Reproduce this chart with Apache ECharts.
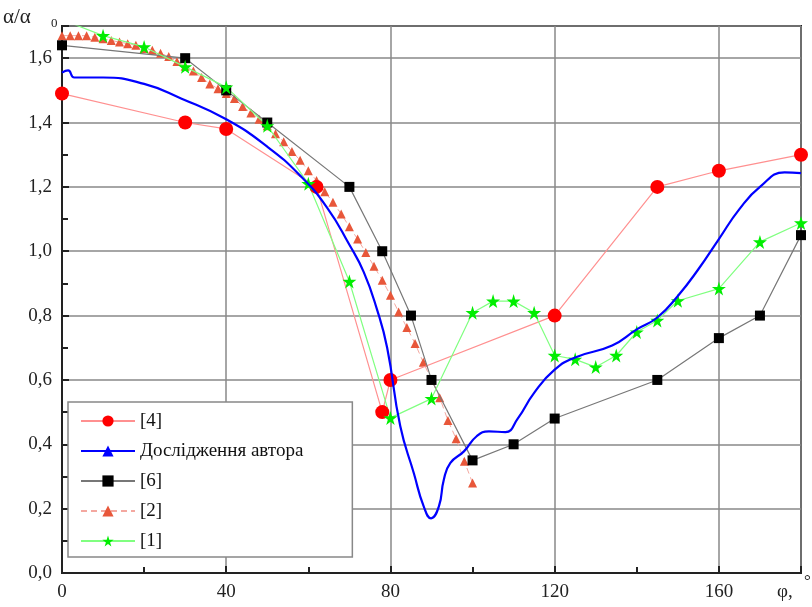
<!DOCTYPE html>
<html>
<head>
<meta charset="utf-8">
<script src="https://cdn.jsdelivr.net/npm/echarts@6/dist/echarts.min.js"></script>
<style>
  html, body { margin: 0; padding: 0; background: #fff; }
  #main { width: 812px; height: 607px; }
</style>
</head>
<body>
<div id="main"></div>
<script>
// дані (φ, α/α0)
var ref4 = [[0, 1.49], [30, 1.40], [40, 1.38], [62, 1.20], [78, 0.50], [80, 0.60],
  [120, 0.80], [145, 1.20], [160, 1.25], [180, 1.30]];

var author = [[0, 1.555], [1.5, 1.562], [3, 1.54], [10, 1.54], [20, 1.52], [29, 1.475],
  [40, 1.41], [50, 1.325], [58, 1.235], [64.6, 1.135], [70, 1.02], [73.5, 0.935],
  [76.7, 0.82], [79.2, 0.70], [82.4, 0.456], [85.7, 0.31], [88.1, 0.207],
  [89.9, 0.17], [91.8, 0.207], [93, 0.29], [94.6, 0.342], [97.9, 0.378], [101, 0.425],
  [104, 0.44], [108, 0.438], [111, 0.48], [115, 0.56], [120, 0.632], [125, 0.67],
  [134, 0.707], [140, 0.757], [145, 0.794], [150, 0.861], [155, 0.944], [160, 1.038],
  [165, 1.131], [170, 1.2], [176, 1.245], [180, 1.243]];

var ref6 = [[0, 1.64], [30, 1.60], [40, 1.50], [50, 1.40], [70, 1.20], [78, 1.00],
  [85, 0.80], [90, 0.60], [100, 0.35], [110, 0.40], [120, 0.48], [145, 0.60],
  [160, 0.73], [170, 0.80], [180, 1.05]];

var ref2x = [0, 2, 4, 6, 8, 10, 12, 14, 16, 18, 20, 22, 24, 26, 28, 30, 32, 34, 36, 38, 40,
  42, 44, 46, 48, 50, 52, 54, 56, 58, 60, 62, 64, 66, 68, 70, 72, 74, 76, 78, 80,
  82, 84, 86, 88, 90, 92, 94, 96, 98, 100];
var ref2y = [1.67, 1.67, 1.67, 1.67, 1.665, 1.66, 1.655, 1.65, 1.645, 1.64, 1.63, 1.625,
  1.615, 1.605, 1.59, 1.575, 1.56, 1.54, 1.52, 1.505, 1.49, 1.475, 1.45, 1.43, 1.41,
  1.39, 1.365, 1.34, 1.31, 1.283, 1.25, 1.22, 1.185, 1.152, 1.116, 1.076, 1.038, 0.996,
  0.953, 0.91, 0.863, 0.811, 0.763, 0.713, 0.655, 0.60, 0.545, 0.474, 0.417, 0.347, 0.28];

var ref1 = [[0, 1.72], [10, 1.67], [20, 1.635], [30, 1.573], [40, 1.51], [50, 1.39],
  [60, 1.21], [70, 0.906], [80, 0.482], [90, 0.542], [100, 0.809], [105, 0.845],
  [110, 0.845], [115, 0.809], [120, 0.676], [125, 0.664], [130, 0.64], [135, 0.676],
  [140, 0.749], [145, 0.785], [150, 0.846], [160, 0.884], [170, 1.029], [180, 1.088]];

var ref2 = ref2x.map(function (x, i) { return [x, ref2y[i]]; });

var star = 'path://M50,0 L61,35 L98,35 L68,57 L79,91 L50,70 L21,91 L32,57 L2,35 L39,35 Z';
var serif = 'Times New Roman, Liberation Serif, Tinos, Noto Serif, DejaVu Serif, serif';

var chart = echarts.init(document.getElementById('main'));

var option = {
  backgroundColor: '#fff',
  animation: false,
  grid: {
    left: 62, right: 11, top: 26, bottom: 34,
    show: true, borderColor: '#222', borderWidth: 2
  },
  legend: {
    orient: 'vertical',
    left: 68, top: 402,
    backgroundColor: '#fff',
    borderColor: '#888', borderWidth: 1.5,
    padding: [9, 49, 6, 12],
    itemWidth: 54, itemHeight: 14, itemGap: 10,
    textStyle: { fontFamily: serif, fontSize: 19, color: '#111', lineHeight: 20 },
    data: ['[4]', 'Дослідження автора', '[6]', '[2]', '[1]']
  },
  xAxis: {
    type: 'value', min: 0, max: 180, interval: 40,
    axisLine: { lineStyle: { color: '#222', width: 2 } },
    axisTick: { inside: true, length: 7, lineStyle: { color: '#222', width: 2 } },
    minorTick: { show: true, splitNumber: 2, length: 6, lineStyle: { color: '#222', width: 2 } },
    splitLine: { show: true, lineStyle: { color: '#888', width: 1.5 } },
    axisLabel: { fontFamily: serif, fontSize: 19, color: '#222', margin: 10, showMaxLabel: false }
  },
  yAxis: {
    type: 'value', min: 0, max: 1.7, interval: 0.2,
    axisLine: { show: true, lineStyle: { color: '#222', width: 2 } },
    axisTick: { show: true, inside: true, length: 7, lineStyle: { color: '#222', width: 2 } },
    minorTick: { show: true, splitNumber: 2, length: 6, lineStyle: { color: '#222', width: 2 } },
    splitLine: { show: true, lineStyle: { color: '#888', width: 1.5 } },
    axisLabel: {
      fontFamily: serif, fontSize: 19, color: '#222', margin: 10, showMaxLabel: false,
      formatter: function (v) { return v.toFixed(1).replace('.', ','); }
    }
  },
  graphic: [
    { type: 'text', left: 3, top: 7, style: { text: 'α/α', fontSize: 21, fontFamily: serif, fill: '#222' } },
    { type: 'text', left: 51, top: 17, style: { text: '0', fontSize: 13, fontFamily: serif, fill: '#222' } },
    { type: 'text', left: 777, top: 583, style: { text: 'φ,', fontSize: 19, fontFamily: serif, fill: '#222' } },
    { type: 'text', left: 804, top: 573, style: { text: '°', fontSize: 17, fontFamily: serif, fill: '#222' } }
  ],
  series: [
    {
      name: '[4]', type: 'line', data: ref4,
      symbol: 'circle', symbolSize: 14,
      itemStyle: { color: '#ff0000' },
      lineStyle: { color: '#ff9090', width: 1.2 },
      z: 3
    },
    {
      name: 'Дослідження автора', type: 'line', data: author,
      smooth: 0.5,
      symbol: 'triangle', symbolSize: 4, showSymbol: false,
      itemStyle: { color: '#0000ff' },
      lineStyle: { color: '#0000ff', width: 2.2 },
      z: 4
    },
    {
      name: '[6]', type: 'line', data: ref6,
      symbol: 'rect', symbolSize: 10,
      itemStyle: { color: '#000' },
      lineStyle: { color: '#777', width: 1.2 },
      z: 3
    },
    {
      name: '[2]', type: 'line', data: ref2,
      symbol: 'triangle', symbolSize: 9,
      itemStyle: { color: '#e8573a' },
      lineStyle: { color: '#f4a8a0', width: 1, type: [6, 4] },
      z: 2
    },
    {
      name: '[1]', type: 'line', data: ref1,
      symbol: star, symbolSize: 14,
      itemStyle: { color: '#00ee00' },
      lineStyle: { color: '#80ff80', width: 1.2 },
      z: 3
    }
  ]
};

chart.setOption(option);
</script>
</body>
</html>
